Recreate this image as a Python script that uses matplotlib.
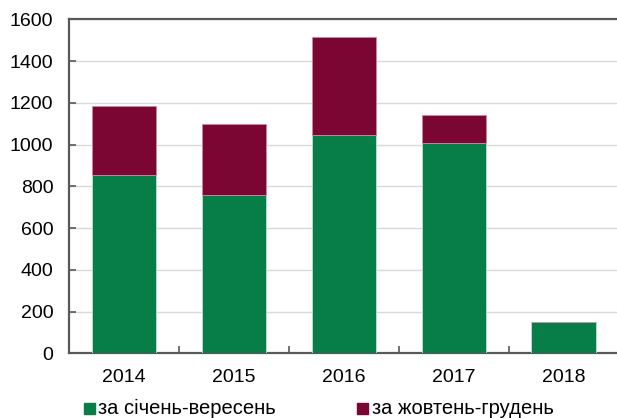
import matplotlib
matplotlib.use("Agg")
import matplotlib.pyplot as plt
from matplotlib.patches import Rectangle

years = ["2014", "2015", "2016", "2017", "2018"]
jan_sep = [852, 756, 1048, 1009, 150]
oct_dec = [333, 342, 468, 131, 0]
series_labels = ["за січень-вересень", "за жовтень-грудень"]
y_ticks = [0, 200, 400, 600, 800, 1000, 1200, 1400, 1600]

GREEN = "#077D48"
MAROON = "#7B0533"
SPINE = "#595959"
GRID = "#D9D9D9"

plt.rcParams['font.family'] = ['Liberation Sans', 'DejaVu Sans']

W, H = 617, 418
fig = plt.figure(figsize=(W / 100, H / 100), dpi=100)
left, right, bottom, top = 69.3, 618.5, 353.3, 19.3
ax = fig.add_axes([left / W, 1 - bottom / H, (right - left) / W, (bottom - top) / H])

x = list(range(len(years)))
bw = 0.585
ax.bar(x, jan_sep, width=bw, color=GREEN, edgecolor="#bfe0cf", linewidth=0.6, zorder=3)
ax.bar(x, oct_dec, bottom=jan_sep, width=bw, color=MAROON, edgecolor="#c98aa0", linewidth=0.6, zorder=3)

ax.set_xlim(-0.5, len(years) - 0.5)
ax.set_ylim(0, 1600)
ax.set_yticks(y_ticks)
ax.set_yticklabels([str(v) for v in y_ticks], fontsize=14)
ax.yaxis.grid(True, color=GRID, linewidth=1.0, zorder=0)
ax.set_axisbelow(True)

# x ticks: labels at centres, tick marks at slot boundaries
ax.set_xticks(x)
ax.set_xticklabels(years, fontsize=14)
ax.tick_params(axis='x', which='major', length=0, pad=11.5)
ax.set_xticks([i + 0.5 for i in range(len(years) - 1)], minor=True)
ax.tick_params(axis='x', which='minor', direction='in', length=5, width=1.2, color=SPINE)
ax.tick_params(axis='y', direction='in', length=5, width=1.2, color=SPINE, pad=11.5)

for s in ["left", "top", "bottom", "right"]:
    ax.spines[s].set_color(SPINE)
    ax.spines[s].set_linewidth(1.6)

# legend drawn manually
fig.patches.append(Rectangle((83.5 / W, 1 - 413.5 / H), 11 / W, 11 / H,
                             transform=fig.transFigure, color=GREEN, figure=fig))
fig.text(97.6 / W, 1 - 408 / H, series_labels[0], fontsize=14.5, va="center", ha="left")
fig.patches.append(Rectangle((357 / W, 1 - 413.5 / H), 11 / W, 11 / H,
                             transform=fig.transFigure, color=MAROON, figure=fig))
fig.text(371.5 / W, 1 - 408 / H, series_labels[1], fontsize=14.5, va="center", ha="left")

fig.savefig("out.png", dpi=100)
